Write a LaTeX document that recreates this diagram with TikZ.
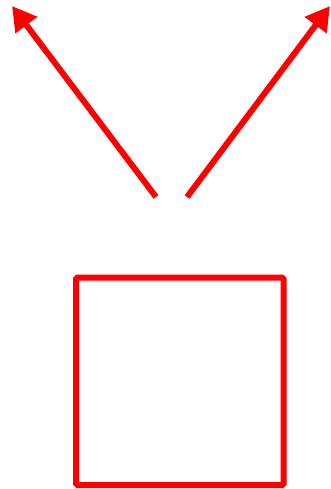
\documentclass[tikz,border=0pt]{standalone}
\usetikzlibrary{arrows.meta}

\begin{document}
\begin{tikzpicture}[
    x=1pt, y=-1pt,
    redline/.style={draw=red, line width=6pt},
    arr/.style={redline, -{Triangle[length=24pt, width=26pt]}},
]
    \useasboundingbox (0,0) rectangle (331,489);
    % arrows
    \coordinate (ltail) at (156,197);
    \coordinate (lhead) at (12,6);
    \coordinate (rtail) at (187,197);
    \coordinate (rhead) at (330,6);
    \draw[arr] (ltail) -- (lhead);
    \draw[arr] (rtail) -- (rhead);
    % box
    \draw[redline, rounded corners=1.5pt] (76,277.5) rectangle (283.5,485);
\end{tikzpicture}
\end{document}
